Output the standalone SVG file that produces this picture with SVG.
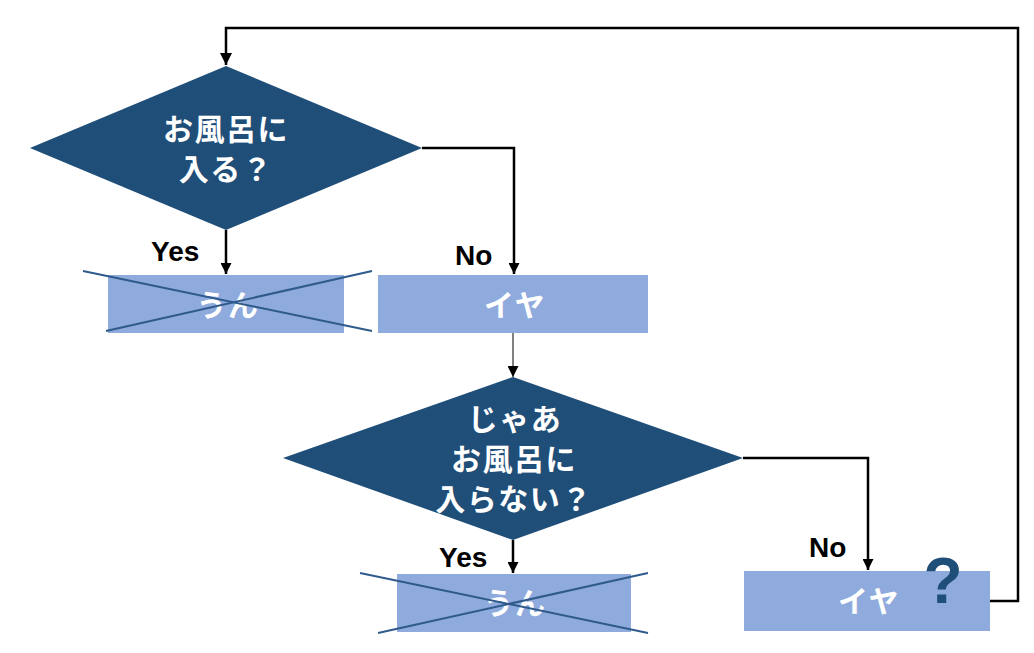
<svg xmlns="http://www.w3.org/2000/svg" width="1034" height="653" viewBox="0 0 1034 653">
<style>
.dia{fill:#1F4E79}
.box{fill:#8FAADC}
.jt{font-family:"Noto Sans CJK JP","Noto Sans CJK SC",sans-serif;font-weight:bold;font-size:30px;fill:#FFFFFF;text-anchor:middle;letter-spacing:1.5px}
.lbl{font-family:"Liberation Sans",Arial,sans-serif;font-weight:bold;font-size:28px;fill:#000000}
.conn{fill:none;stroke:#000000;stroke-width:2.5}
.thin{fill:none;stroke:#000000;stroke-width:1}
.x{stroke:#2F5A8C;stroke-width:2}
</style>
<defs>
<marker id="ah" viewBox="0 0 10 10" refX="10" refY="5" markerWidth="11" markerHeight="11" markerUnits="userSpaceOnUse" orient="auto">
<path d="M0,0 L10,5 L0,10 Z" fill="#000000"/>
</marker>
<marker id="ah2" viewBox="0 0 10 10" refX="10" refY="5" markerWidth="12" markerHeight="12" markerUnits="userSpaceOnUse" orient="auto">
<path d="M0,0 L10,5 L0,10 Z" fill="#000000"/>
</marker>
</defs>
<rect width="1034" height="653" fill="#FFFFFF"/>
<g id="connectors">
<path class="conn" d="M990,601 H1018 V28 H226 V65" marker-end="url(#ah2)"/>
<path class="conn" d="M422,148 H514 V274" marker-end="url(#ah)"/>
<path class="conn" d="M226,230 V274" marker-end="url(#ah)"/>
<path class="thin" d="M513,333 V377" marker-end="url(#ah)"/>
<path class="conn" d="M513,540 V573" marker-end="url(#ah)"/>
<path class="conn" d="M743,458 H868 V570" marker-end="url(#ah)"/>
<text class="lbl" x="151" y="261">Yes</text>
<text class="lbl" x="455" y="265">No</text>
<text class="lbl" x="439" y="567">Yes</text>
<text class="lbl" x="809" y="557">No</text>
</g>
<g id="n1">
<polygon class="dia" points="30,148 226,66 422,148 226,230"/>
<text class="jt" x="226" y="140">お風呂に</text>
<text class="jt" x="226" y="180">入る？</text>
</g>
<g id="n2">
<rect class="box" x="108" y="275" width="236" height="58"/>
<text class="jt" x="228" y="316">うん</text>
<line class="x" x1="83" y1="271" x2="372" y2="331"/>
<line class="x" x1="106" y1="331" x2="372" y2="271"/>
</g>
<g id="n3">
<rect class="box" x="378" y="275" width="270" height="58"/>
<text class="jt" x="515" y="316">イヤ</text>
</g>
<g id="n4">
<polygon class="dia" points="283,458 513,377 743,458 513,540"/>
<text class="jt" x="515" y="430">じゃあ</text>
<text class="jt" x="514" y="470">お風呂に</text>
<text class="jt" x="514" y="510">入らない？</text>
</g>
<g id="n5">
<rect class="box" x="397" y="574" width="234" height="58"/>
<text class="jt" x="515" y="614">うん</text>
<line class="x" x1="360" y1="573" x2="648" y2="633"/>
<line class="x" x1="378" y1="633" x2="648" y2="573"/>
</g>
<g id="n6">
<rect class="box" x="744" y="571" width="246" height="60"/>
<text class="jt" x="869" y="612">イヤ</text>
<text x="943" y="603" font-family="Liberation Sans, Arial, sans-serif" font-weight="bold" font-size="64" fill="#1F4E79" text-anchor="middle">?</text>
</g>
</svg>
